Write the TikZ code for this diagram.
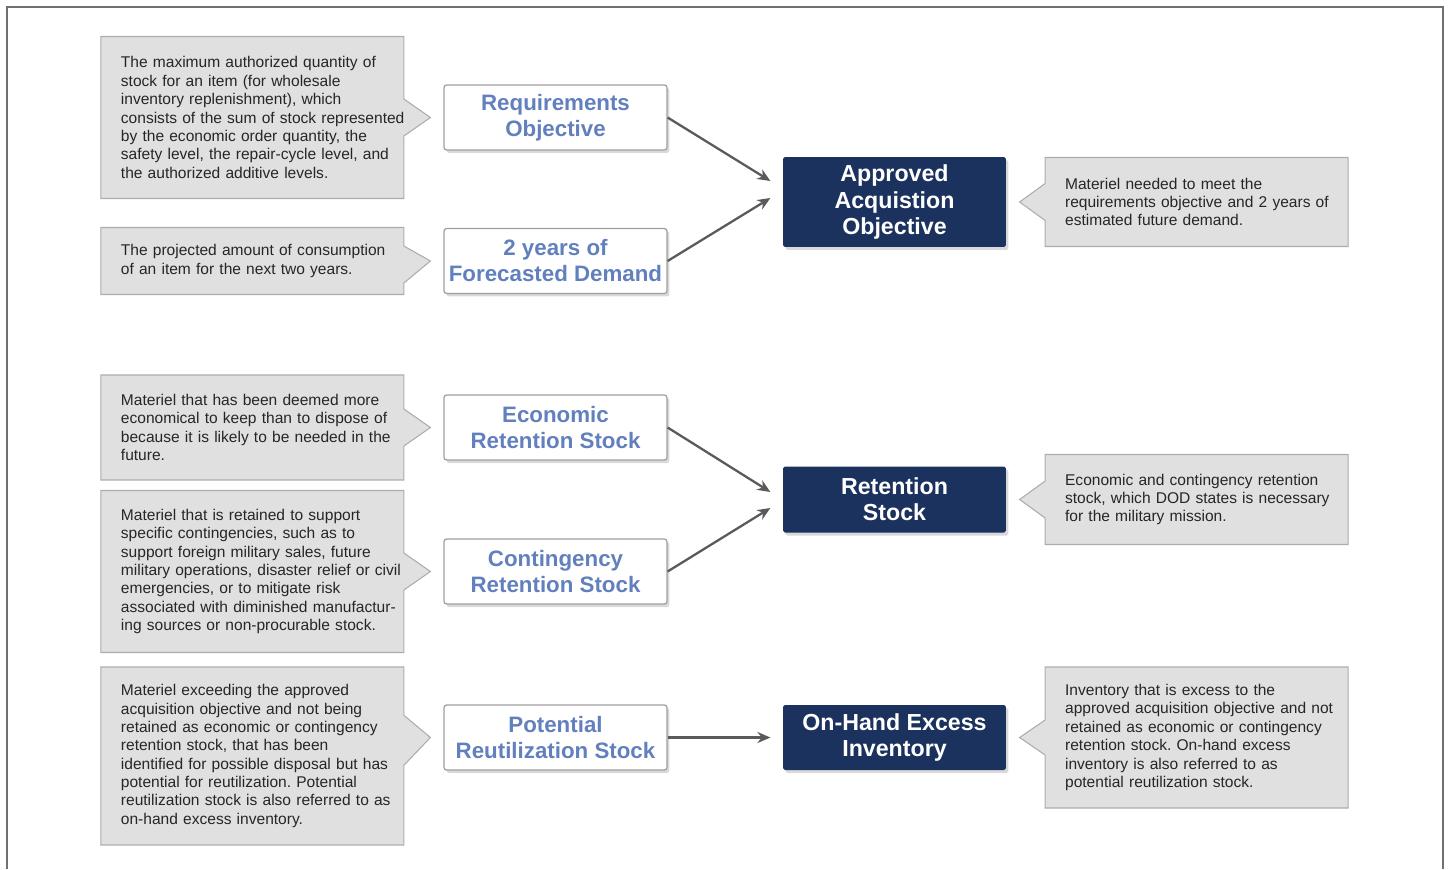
\documentclass[tikz,border=0pt]{standalone}
\usepackage{fontspec}
\setmainfont{Liberation Sans}
\frenchspacing
\usepackage{tikz}
\usetikzlibrary{positioning, shapes.callouts, shadows, arrows.meta}

\definecolor{navy}{RGB}{28,50,94}
\definecolor{termblue}{RGB}{98,128,190}
\definecolor{notefill}{RGB}{224,224,224}
\definecolor{noteline}{RGB}{172,172,172}
\definecolor{linkgray}{RGB}{90,90,90}
\definecolor{framegray}{RGB}{112,112,112}

\tikzset{
  term/.style={draw=gray!75, fill=white, rounded corners=1.5pt, line width=0.7pt,
    minimum width=4.46cm, minimum height=1.3cm, inner xsep=1pt, align=center, text=termblue,
    font=\fontsize{12.7}{14.8}\selectfont\bfseries,
    drop shadow={shadow xshift=0.05cm, shadow yshift=-0.06cm, opacity=0.3}},
  total/.style={term, draw=none, fill=navy, text=white, rounded corners=1pt,
    font=\fontsize{13.2}{14.8}\selectfont\bfseries},
  note/.style={rectangle callout, draw=noteline, fill=notefill, line width=0.6pt,
    text=black!85, text width=6.06cm, inner xsep=0pt, inner ysep=2pt, align=left,
    callout pointer width=0.74cm, font=\fontsize{8.85}{10.45}\selectfont,
    execute at begin node={\leftskip=0.4cm\rightskip=-0.2cm plus 2em}},
  link/.style={draw=linkgray, line width=1.3pt, -{Stealth[length=0.26cm, width=0.22cm]}},
}

\begin{document}
\begin{tikzpicture}[x=0.02cm, y=-0.02cm]
    \useasboundingbox (0,0) rectangle (1449,869);
    \draw[framegray, line width=1.1pt] (7,869) -- (7,7) -- (1443,7) -- (1443,869);

    % totals
    \node[total, minimum height=1.8cm] (aao) at (894.5,202) {Approved\\Acquistion\\Objective};
    \node[total, minimum height=1.32cm] (ret) at (894.5,499.5) {Retention\\Stock};
    \node[total] (ohe) at (894.5,737.5) {On-Hand Excess\\Inventory};

    % terms
    \node[term] (req) at (555.5,117.5) {Requirements\\Objective};
    \node[term] (fcst) at (555.5,261) {2 years of\\Forecasted Demand};
    \node[term] (ecn) at (555.5,427.5) {Economic\\Retention Stock};
    \node[term] (cont) at (555.5,571.5) {Contingency\\Retention Stock};
    \node[term] (potl) at (555.5,737.5) {Potential\\Reutilization Stock};

    % notes, left
    \node[note, minimum height=3.24cm, left=0.78cm of req,
          callout absolute pointer={([xshift=-0.26cm]req.west)}] (req-note)
        {The maximum authorized quantity of\\stock for an item (for wholesale\\inventory replenishment), which\\consists of the sum of stock represented\\by the economic order quantity, the\\safety level, the repair-cycle level, and\\the authorized additive levels.};
    \node[note, minimum height=1.34cm, left=0.78cm of fcst,
          callout absolute pointer={([xshift=-0.26cm]fcst.west)}] (fcst-note)
        {The projected amount of consumption\\of an item for the next two years.};
    \node[note, minimum height=2.1cm, left=0.78cm of ecn,
          callout absolute pointer={([xshift=-0.26cm]ecn.west)}] (ecn-note)
        {Materiel that has been deemed more\\economical to keep than to dispose of\\because it is likely to be needed in the\\future.};
    \node[note, minimum height=3.24cm, left=0.78cm of cont,
          callout absolute pointer={([xshift=-0.26cm]cont.west)}] (cont-note)
        {Materiel that is retained to support\\specific contingencies, such as to\\support foreign military sales, future\\military operations, disaster relief or civil\\emergencies, or to mitigate risk\\associated with diminished manufactur-\\ing sources or non-procurable stock.};
    \node[note, minimum height=3.56cm, left=0.78cm of potl, yshift=-0.37cm, callout pointer width=1cm,
          callout absolute pointer={([xshift=-0.26cm]potl.west)}] (potl-note)
        {Materiel exceeding the approved\\acquisition objective and not being\\retained as economic or contingency\\retention stock, that has been\\identified for possible disposal but has\\potential for reutilization. Potential\\reutilization stock is also referred to as\\on-hand excess inventory.};

    % notes, right
    \node[note, minimum height=1.78cm, right=0.76cm of aao,
          callout absolute pointer={([xshift=0.26cm]aao.east)}] (aao-note)
        {Materiel needed to meet the\\requirements objective and 2 years of\\estimated future demand.};
    \node[note, minimum height=1.8cm, right=0.76cm of ret,
          callout absolute pointer={([xshift=0.26cm]ret.east)}] (ret-note)
        {Economic and contingency retention\\stock, which DOD states is necessary\\for the military mission.};
    \node[note, minimum height=2.82cm, right=0.76cm of ohe, callout pointer width=0.7cm,
          callout absolute pointer={([xshift=0.26cm]ohe.east)}] (ohe-note)
        {Inventory that is excess to the\\approved acquisition objective and not\\retained as economic or contingency\\retention stock. On-hand excess\\inventory is also referred to as\\potential reutilization stock.};

    % arrow ends
    \coordinate (aao-in1) at ([xshift=-0.24cm, yshift=0.42cm]aao.west);
    \coordinate (aao-in2) at ([xshift=-0.24cm, yshift=0.08cm]aao.west);
    \coordinate (ret-in1) at ([xshift=-0.24cm, yshift=0.15cm]ret.west);
    \coordinate (ret-in2) at ([xshift=-0.24cm, yshift=-0.17cm]ret.west);
    \coordinate (ohe-in) at ([xshift=-0.24cm]ohe.west);

    \draw[link] (req.east) -- (aao-in1);
    \draw[link] (fcst.east) -- (aao-in2);
    \draw[link] (ecn.east) -- (ret-in1);
    \draw[link] (cont.east) -- (ret-in2);
    \draw[link] (potl.east) -- (ohe-in);
\end{tikzpicture}
\end{document}
